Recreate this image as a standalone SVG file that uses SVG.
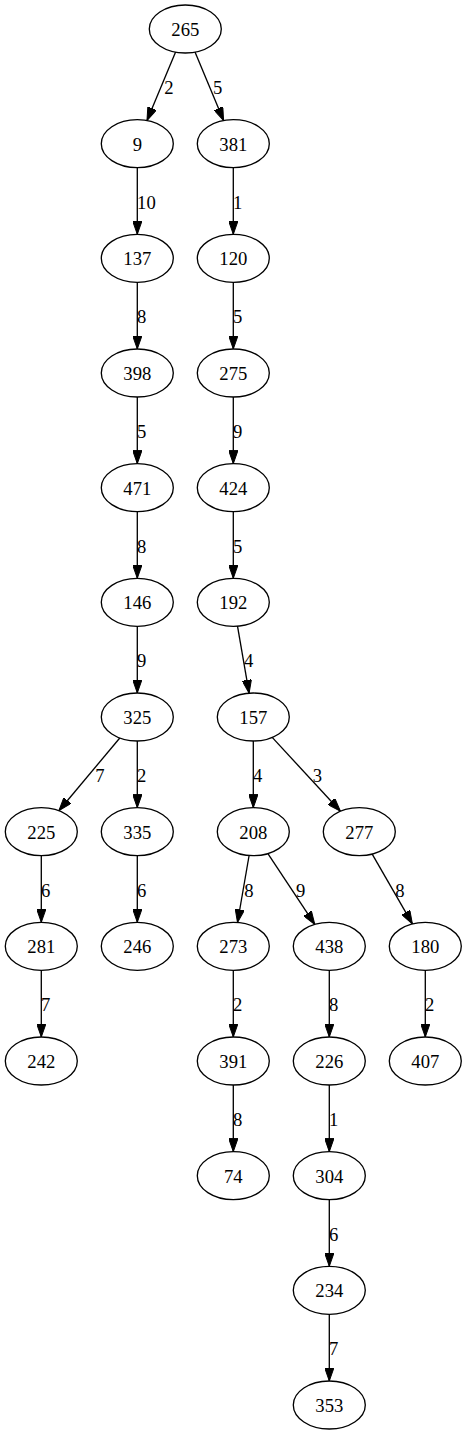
<svg xmlns="http://www.w3.org/2000/svg" width="467" height="1435" viewBox="0 0 467 1435">
<style>
.n ellipse{fill:#fff;stroke:#000;stroke-width:1.33}
.n text{font-family:"Liberation Serif",Times,serif;font-size:18.67px;text-anchor:middle;fill:#000}
.e line{stroke:#000;stroke-width:1.33;marker-end:url(#ah)}
.e text{font-family:"Liberation Serif",Times,serif;font-size:18.67px;fill:#000}
.m{text-anchor:middle}
</style>
<defs>
<marker id="ah" viewBox="0 0 13.3 9.33" refX="13.3" refY="4.67" markerUnits="userSpaceOnUse" markerWidth="13.3" markerHeight="9.33" orient="auto">
<path d="M0,0 L13.3,4.67 L0,9.33 z" fill="#000" stroke="#000" stroke-width="1"/>
</marker>
</defs>
<rect width="467" height="1435" fill="#fff"/>
<g id="edges" class="e">
<line x1="175.6" y1="52.1" x2="147.0" y2="120.6"/><text class="m" x="169" y="93.8">2</text>
<line x1="195.0" y1="52.1" x2="223.6" y2="120.6"/><text class="m" x="217.7" y="93.8">5</text>
<line x1="137.3" y1="167.7" x2="137.3" y2="234.3"/><text x="137.1" y="208.5">10</text>
<line x1="233.3" y1="167.7" x2="233.3" y2="234.3"/><text x="232.9" y="208.5">1</text>
<line x1="137.3" y1="282.3" x2="137.3" y2="349"/><text x="137.0" y="323.2">8</text>
<line x1="233.3" y1="282.3" x2="233.3" y2="349"/><text x="233.0" y="323.2">5</text>
<line x1="137.3" y1="397" x2="137.3" y2="463.7"/><text x="137.0" y="437.8">5</text>
<line x1="233.3" y1="397" x2="233.3" y2="463.7"/><text x="233.0" y="437.8">9</text>
<line x1="137.3" y1="511.7" x2="137.3" y2="578.3"/><text x="137.0" y="552.5">8</text>
<line x1="233.3" y1="511.7" x2="233.3" y2="578.3"/><text x="233.0" y="552.5">5</text>
<line x1="137.3" y1="626.3" x2="137.3" y2="693"/><text x="137.0" y="667.2">9</text>
<line x1="237.5" y1="626.2" x2="249.1" y2="693.2"/><text class="m" x="248.7" y="667.2">4</text>
<line x1="119.8" y1="738.0" x2="58.9" y2="810.7"/><text class="m" x="100" y="781.8">7</text>
<line x1="137.3" y1="741" x2="137.3" y2="807.7"/><text x="137.0" y="781.8">2</text>
<line x1="253.3" y1="741" x2="253.3" y2="807.7"/><text x="253.0" y="781.8">4</text>
<line x1="272.2" y1="737.4" x2="340.4" y2="811.2"/><text class="m" x="317.3" y="781.8">3</text>
<line x1="41.3" y1="855.7" x2="41.3" y2="922.3"/><text x="41.0" y="896.5">6</text>
<line x1="137.3" y1="855.7" x2="137.3" y2="922.3"/><text x="137.0" y="896.5">6</text>
<line x1="249.1" y1="855.5" x2="237.5" y2="922.5"/><text class="m" x="249" y="896.5">8</text>
<line x1="267.9" y1="853.6" x2="314.8" y2="924.4"/><text class="m" x="300.7" y="896.5">9</text>
<line x1="372.2" y1="854.1" x2="412.4" y2="923.9"/><text class="m" x="400" y="896.5">8</text>
<line x1="41.3" y1="970.3" x2="41.3" y2="1037"/><text x="41.0" y="1011.2">7</text>
<line x1="233.3" y1="970.3" x2="233.3" y2="1037"/><text x="233.0" y="1011.2">2</text>
<line x1="329.3" y1="970.3" x2="329.3" y2="1037"/><text x="329.0" y="1011.2">8</text>
<line x1="425.3" y1="970.3" x2="425.3" y2="1037"/><text x="425.0" y="1011.2">2</text>
<line x1="233.3" y1="1085" x2="233.3" y2="1151.7"/><text x="233.0" y="1125.8">8</text>
<line x1="329.3" y1="1085" x2="329.3" y2="1151.7"/><text x="329.0" y="1125.8">1</text>
<line x1="329.3" y1="1199.7" x2="329.3" y2="1266.3"/><text x="329.0" y="1240.5">6</text>
<line x1="329.3" y1="1314.3" x2="329.3" y2="1381"/><text x="329.0" y="1355.2">7</text>
</g>
<g id="n265" class="n"><ellipse cx="185.3" cy="29" rx="36" ry="24"/><text x="185.3" y="35.8">265</text></g>
<g id="n9" class="n"><ellipse cx="137.3" cy="143.7" rx="36" ry="24"/><text x="137.3" y="150.5">9</text></g>
<g id="n381" class="n"><ellipse cx="233.3" cy="143.7" rx="36" ry="24"/><text x="233.3" y="150.5">381</text></g>
<g id="n137" class="n"><ellipse cx="137.3" cy="258.3" rx="36" ry="24"/><text x="137.3" y="265.1">137</text></g>
<g id="n120" class="n"><ellipse cx="233.3" cy="258.3" rx="36" ry="24"/><text x="233.3" y="265.1">120</text></g>
<g id="n398" class="n"><ellipse cx="137.3" cy="373" rx="36" ry="24"/><text x="137.3" y="379.8">398</text></g>
<g id="n275" class="n"><ellipse cx="233.3" cy="373" rx="36" ry="24"/><text x="233.3" y="379.8">275</text></g>
<g id="n471" class="n"><ellipse cx="137.3" cy="487.7" rx="36" ry="24"/><text x="137.3" y="494.5">471</text></g>
<g id="n424" class="n"><ellipse cx="233.3" cy="487.7" rx="36" ry="24"/><text x="233.3" y="494.5">424</text></g>
<g id="n146" class="n"><ellipse cx="137.3" cy="602.3" rx="36" ry="24"/><text x="137.3" y="609.1">146</text></g>
<g id="n192" class="n"><ellipse cx="233.3" cy="602.3" rx="36" ry="24"/><text x="233.3" y="609.1">192</text></g>
<g id="n325" class="n"><ellipse cx="137.3" cy="717" rx="36" ry="24"/><text x="137.3" y="723.8">325</text></g>
<g id="n157" class="n"><ellipse cx="253.3" cy="717" rx="36" ry="24"/><text x="253.3" y="723.8">157</text></g>
<g id="n225" class="n"><ellipse cx="41.3" cy="831.7" rx="36" ry="24"/><text x="41.3" y="838.5">225</text></g>
<g id="n335" class="n"><ellipse cx="137.3" cy="831.7" rx="36" ry="24"/><text x="137.3" y="838.5">335</text></g>
<g id="n208" class="n"><ellipse cx="253.3" cy="831.7" rx="36" ry="24"/><text x="253.3" y="838.5">208</text></g>
<g id="n277" class="n"><ellipse cx="359.3" cy="831.7" rx="36" ry="24"/><text x="359.3" y="838.5">277</text></g>
<g id="n281" class="n"><ellipse cx="41.3" cy="946.3" rx="36" ry="24"/><text x="41.3" y="953.1">281</text></g>
<g id="n246" class="n"><ellipse cx="137.3" cy="946.3" rx="36" ry="24"/><text x="137.3" y="953.1">246</text></g>
<g id="n273" class="n"><ellipse cx="233.3" cy="946.3" rx="36" ry="24"/><text x="233.3" y="953.1">273</text></g>
<g id="n438" class="n"><ellipse cx="329.3" cy="946.3" rx="36" ry="24"/><text x="329.3" y="953.1">438</text></g>
<g id="n180" class="n"><ellipse cx="425.3" cy="946.3" rx="36" ry="24"/><text x="425.3" y="953.1">180</text></g>
<g id="n242" class="n"><ellipse cx="41.3" cy="1061" rx="36" ry="24"/><text x="41.3" y="1067.8">242</text></g>
<g id="n391" class="n"><ellipse cx="233.3" cy="1061" rx="36" ry="24"/><text x="233.3" y="1067.8">391</text></g>
<g id="n226" class="n"><ellipse cx="329.3" cy="1061" rx="36" ry="24"/><text x="329.3" y="1067.8">226</text></g>
<g id="n407" class="n"><ellipse cx="425.3" cy="1061" rx="36" ry="24"/><text x="425.3" y="1067.8">407</text></g>
<g id="n74" class="n"><ellipse cx="233.3" cy="1175.7" rx="36" ry="24"/><text x="233.3" y="1182.5">74</text></g>
<g id="n304" class="n"><ellipse cx="329.3" cy="1175.7" rx="36" ry="24"/><text x="329.3" y="1182.5">304</text></g>
<g id="n234" class="n"><ellipse cx="329.3" cy="1290.3" rx="36" ry="24"/><text x="329.3" y="1297.1">234</text></g>
<g id="n353" class="n"><ellipse cx="329.3" cy="1405" rx="36" ry="24"/><text x="329.3" y="1411.8">353</text></g>
</svg>
